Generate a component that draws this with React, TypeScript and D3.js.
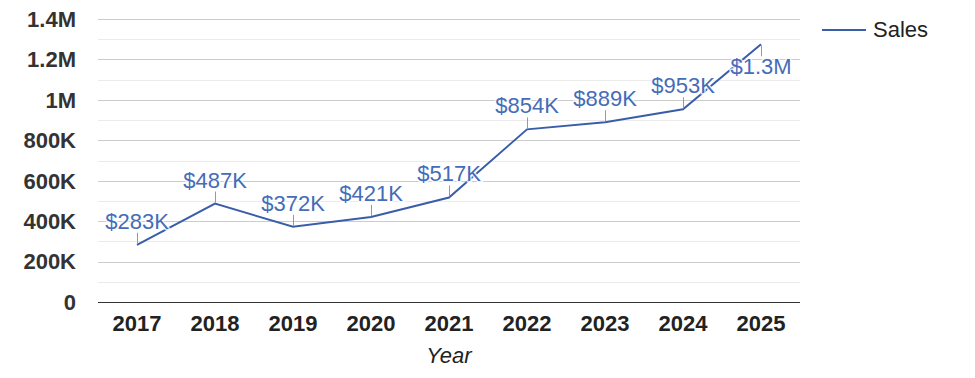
import React from "react";
import * as d3 from "d3";

const years = ["2017", "2018", "2019", "2020", "2021", "2022", "2023", "2024", "2025"];
const sales = [283000, 487000, 372000, 421000, 517000, 854000, 889000, 953000, 1275000];
const salesLabels = ["$283K", "$487K", "$372K", "$421K", "$517K", "$854K", "$889K", "$953K", "$1.3M"];
const labelBelow = [false, false, false, false, false, false, false, false, true];
const yTicks = [0, 200000, 400000, 600000, 800000, 1000000, 1200000, 1400000];
const yTickLabels = ["0", "200K", "400K", "600K", "800K", "1M", "1.2M", "1.4M"];
const yMinorTicks = [100000, 300000, 500000, 700000, 900000, 1100000, 1300000];

const W = 975;
const H = 378;
const left = 98;
const right = 800;
const top = 19;
const bottom = 302;
const lineColor = "#3a5daa";
const labelColor = "#456cb8";
const font = "Arial, 'Liberation Sans', sans-serif";

export default function App() {
  const x = d3.scaleBand<string>().domain(years).range([left, right]);
  const y = d3.scaleLinear().domain([0, 1400000]).range([bottom, top]);
  const cx = (d: string) => (x(d) as number) + x.bandwidth() / 2;
  const line = d3
    .line<number>()
    .x((_, i) => cx(years[i]))
    .y((d) => y(d));

  return (
    <svg width={W} height={H} style={{ position: "absolute", left: 0, top: 0 }}>
      <rect width={W} height={H} fill="#fff" />
      {yMinorTicks.map((t) => (
        <line key={"m" + t} x1={left} x2={right} y1={Math.round(y(t)) + 0.5} y2={Math.round(y(t)) + 0.5} stroke="#ebebeb" />
      ))}
      {yTicks.map((t) =>
        t === 0 ? null : (
          <line key={"g" + t} x1={left} x2={right} y1={Math.round(y(t)) + 0.5} y2={Math.round(y(t)) + 0.5} stroke="#cccccc" />
        )
      )}
      {yTicks.map((t, i) => (
        <text
          key={"yl" + t}
          x={76}
          y={y(t)}
          dy="0.36em"
          textAnchor="end"
          fontFamily={font}
          fontWeight="bold"
          fontSize={22}
          fill="#333"
        >
          {yTickLabels[i]}
        </text>
      ))}
      <path d={line(sales) || ""} fill="none" stroke={lineColor} strokeWidth={2} />
      {sales.map((v, i) => (
        <line
          key={"st" + i}
          x1={cx(years[i]) + 0.5}
          x2={cx(years[i]) + 0.5}
          y1={labelBelow[i] ? y(v) + 1 : y(v) - 1}
          y2={labelBelow[i] ? y(v) + 12 : y(v) - 12}
          stroke="#999"
          strokeWidth={1}
        />
      ))}
      {sales.map((v, i) => (
        <text
          key={"al" + i}
          x={cx(years[i])}
          y={labelBelow[i] ? y(v) + 30 : y(v) - 16}
          textAnchor="middle"
          fontFamily={font}
          fontSize={22}
          fill={labelColor}
          stroke="#fff"
          strokeWidth={3}
          strokeOpacity={0.8}
          paintOrder="stroke"
        >
          {salesLabels[i]}
        </text>
      ))}
      <line x1={left} x2={right} y1={bottom + 0.5} y2={bottom + 0.5} stroke="#333" strokeWidth={1} />
      {years.map((yr) => (
        <text
          key={"xl" + yr}
          x={cx(yr)}
          y={331}
          textAnchor="middle"
          fontFamily={font}
          fontWeight="bold"
          fontSize={22}
          fill="#222"
        >
          {yr}
        </text>
      ))}
      <text x={(left + right) / 2} y={363} textAnchor="middle" fontFamily={font} fontStyle="italic" fontSize={22} fill="#222">
        Year
      </text>
      <line x1={822} x2={866} y1={30} y2={30} stroke={lineColor} strokeWidth={2} />
      <text x={873} y={37} fontFamily={font} fontSize={22} fill="#222">
        Sales
      </text>
    </svg>
  );
}
